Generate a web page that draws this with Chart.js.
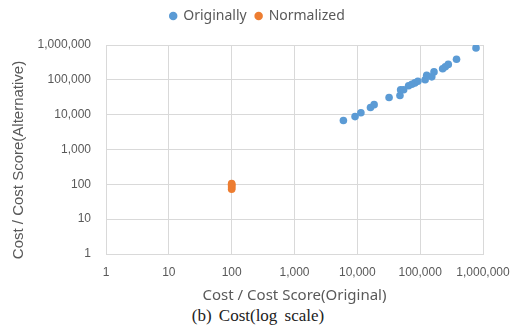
<!DOCTYPE html>
<html>
<head>
<meta charset="utf-8">
<script src="https://cdn.jsdelivr.net/npm/chart.js@4/dist/chart.umd.min.js"></script>
<style>
    body { margin: 0; background: #fff; }
    #wrap { position: relative; width: 515px; height: 332px; }
    #caption {
        position: absolute; left: 0; top: 306px; width: 516px;
        text-align: center; font-family: "Liberation Serif", "DejaVu Serif", serif;
        font-size: 17px; color: #222; word-spacing: 3px;
    }
</style>
</head>
<body>
<div id="wrap">
    <canvas id="chart" width="515" height="305"></canvas>
    <div id="caption">(b) Cost(log scale)</div>
</div>
<script>
// Cost (log scale) scatter

// Originally: cost vs. alternative cost score
const origX = [6000, 9200, 11400, 16200, 18500, 32000, 47700, 48900, 54600, 65500,
    73800, 82400, 91900, 120000, 127000, 153000, 166000, 228000, 251000, 280000,
    379000, 774000];
const origY = [6800, 8800, 11400, 16000, 19400, 31100, 35400, 52000, 52000, 67300,
    74800, 81700, 90800, 101000, 136000, 122000, 169000, 209000, 238000, 277000,
    390000, 824000];

// Normalized: all at 100 on x
const normX = [100, 100, 100, 100, 100, 100];
const normY = [72, 78, 85, 92, 100, 105];

const tickValues = [1, 10, 100, 1000, 10000, 100000, 1000000];

const xTitle = 'Cost / Cost Score(Original)';
const yTitle = 'Cost / Cost Score(Alternative)';

const gridColor = '#d9d9d9';
const textColor = '#595959';

function toPoints(xs, ys) {
    return xs.map((x, i) => ({ x: x, y: ys[i] }));
}

function powerTicks(scale) {
    scale.ticks = tickValues.map(v => ({ value: v }));
}

// legend: fixed height, centred on the whole canvas
const legendLayout = {
    id: 'legendLayout',
    beforeInit(chart) {
        const fit = chart.legend.fit;
        chart.legend.fit = function () {
            fit.call(this);
            this.height = 45;
        };
    },
    afterLayout(chart) {
        chart.legend.left = 0;
        chart.legend.right = chart.width;
        chart.legend.width = chart.width;
    }
};

// y title drawn a bit lower than the plot centre, like the original
const yTitlePlugin = {
    id: 'yTitle',
    afterDraw(chart) {
        const c = chart.ctx;
        c.save();
        c.translate(19, 160);
        c.rotate(-Math.PI / 2);
        c.font = '15px "Liberation Sans"';
        c.fillStyle = textColor;
        c.textAlign = 'center';
        c.textBaseline = 'middle';
        c.fillText(yTitle, 0, 0);
        c.restore();
    }
};

const ctx = document.getElementById('chart').getContext('2d');
const chart = new Chart(ctx, {
    type: 'scatter',
    data: {
        datasets: [{
            label: 'Originally',
            data: toPoints(origX, origY),
            backgroundColor: '#5B9BD5',
            borderColor: '#5B9BD5',
            pointRadius: 3.8,
            pointBorderWidth: 0
        }, {
            label: 'Normalized',
            data: toPoints(normX, normY),
            backgroundColor: '#ED7D31',
            borderColor: '#ED7D31',
            pointRadius: 3.8,
            pointBorderWidth: 0
        }]
    },
    plugins: [legendLayout, yTitlePlugin],
    options: {
        responsive: false,
        animation: false,
        layout: {
            padding: { left: 0, right: 32, top: 0, bottom: 0 }
        },
        scales: {
            x: {
                type: 'logarithmic',
                min: 1,
                max: 1000000,
                afterBuildTicks: powerTicks,
                afterFit: s => {
                    s.height = 51;
                    s.paddingRight = 0;
                    s.paddingLeft = 0;
                },
                grid: { color: gridColor, drawTicks: false },
                border: { color: gridColor },
                ticks: {
                    padding: 11,
                    color: textColor,
                    font: { family: 'Liberation Sans', size: 12 },
                    autoSkip: false,
                    maxRotation: 0,
                    callback: v => Number(v).toLocaleString('en-US')
                },
                title: {
                    display: true,
                    text: xTitle,
                    color: textColor,
                    font: { family: 'Noto Sans', size: 15 },
                    padding: { top: 0, bottom: 0 }
                }
            },
            y: {
                type: 'logarithmic',
                min: 1,
                max: 1000000,
                afterBuildTicks: powerTicks,
                afterFit: s => { s.width = 106; },
                grid: { color: gridColor, drawTicks: false },
                border: { color: gridColor },
                ticks: {
                    padding: 15,
                    color: textColor,
                    font: { family: 'Liberation Sans', size: 12 },
                    autoSkip: false,
                    callback: v => Number(v).toLocaleString('en-US')
                }
            }
        },
        plugins: {
            legend: {
                position: 'top',
                labels: {
                    usePointStyle: true,
                    boxWidth: 6,
                    boxHeight: 6,
                    padding: 9,
                    color: textColor,
                    font: { family: 'Noto Sans', size: 14 }
                }
            },
            tooltip: { enabled: false }
        }
    }
});
</script>
</body>
</html>
